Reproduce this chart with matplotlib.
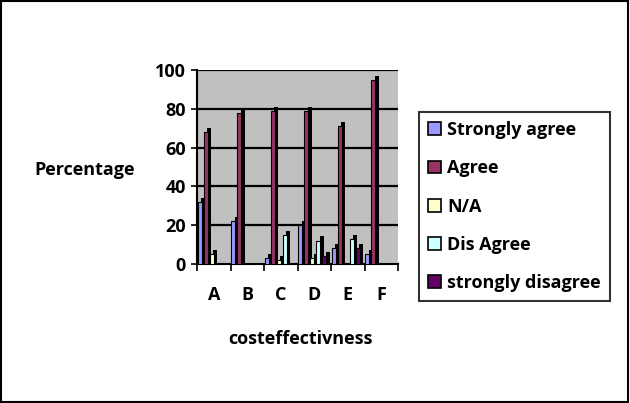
import matplotlib
matplotlib.use("Agg")
import matplotlib.pyplot as plt
from matplotlib.patches import Rectangle, Patch

plt.rcParams['font.family'] = ['Open Sans', 'DejaVu Sans']
plt.rcParams['font.weight'] = 'bold'

# --- data ---
categories = ['A', 'B', 'C', 'D', 'E', 'F']
series_names = ['Strongly agree', 'Agree', 'N/A', 'Dis Agree', 'strongly disagree']
strongly_agree = [32, 22, 3, 20, 8, 5]
agree = [68, 78, 79, 79, 71, 95]
not_applicable = [5, 0, 2, 3, 0, 0]
dis_agree = [0, 0, 15, 12, 13, 0]
strongly_disagree = [0, 0, 0, 4, 8, 0]
series = [strongly_agree, agree, not_applicable, dis_agree, strongly_disagree]
colors = ['#9999FF', '#993366', '#FFFFCC', '#CCFFFF', '#660066']

fig = plt.figure(figsize=(6.3, 4.03), dpi=100)
fig.patch.set_facecolor('white')
fig.patches.append(Rectangle((0.002, 0.003), 0.995, 0.994, transform=fig.transFigure,
                             fill=False, edgecolor='black', linewidth=1.5))

ax = fig.add_axes([0.313, 0.345, 0.319, 0.481])
ax.set_facecolor('#C0C0C0')

# horizontal gridlines
for v in range(20, 101, 20):
    ax.axhline(v, color='black', linewidth=1.6, zorder=1)

bw = 0.12
pitch = 0.18
for j, vals in enumerate(series):
    for i, v in enumerate(vals):
        if v <= 0:
            continue
        x = i + 0.02 + j * pitch
        # dark "3D" side/shadow
        ax.bar(x + 0.1, v + 2.2, width=bw, bottom=0, align='edge',
               color='black', edgecolor='black', linewidth=0, zorder=2)
        ax.bar(x, v, width=bw, align='edge', color=colors[j],
               edgecolor='black', linewidth=0.8, zorder=3)

ax.set_xlim(0, 6)
ax.set_ylim(0, 100)
ax.set_yticks(range(0, 101, 20))
ax.set_yticklabels([str(v) for v in range(0, 101, 20)], fontsize=13, fontweight='bold')
ax.set_xticks([i + 0.5 for i in range(6)])
ax.set_xticklabels(categories, fontsize=13, fontweight='bold')
ax.tick_params(axis='x', length=0, pad=16)
ax.set_xticks(range(7), minor=True)
ax.tick_params(axis='x', which='minor', length=5, width=1.2)
ax.tick_params(axis='y', length=4, width=1.2, pad=4)
for s in ['top', 'right']:
    ax.spines[s].set_visible(False)
ax.spines['left'].set_linewidth(1.5)
ax.spines['bottom'].set_linewidth(1.5)

fig.text(0.135, 0.578, 'Percentage', fontsize=13, fontweight='bold', ha='center', va='center')
fig.text(0.477, 0.16, 'costeffectivness', fontsize=13, fontweight='bold', ha='center', va='center')

handles = [Patch(facecolor=c, edgecolor='black', linewidth=1.2) for c in colors]
leg = fig.legend(handles, series_names, loc='upper left', bbox_to_anchor=(0.665, 0.722),
                 borderaxespad=0, fontsize=13, frameon=True, fancybox=False,
                 handlelength=0.7, handleheight=0.7, handletextpad=0.35,
                 labelspacing=1.12, borderpad=0.5)
leg.get_frame().set_edgecolor('black')
leg.get_frame().set_linewidth(1.5)
for t in leg.get_texts():
    t.set_fontweight('bold')

fig.savefig('out.png', dpi=100)
